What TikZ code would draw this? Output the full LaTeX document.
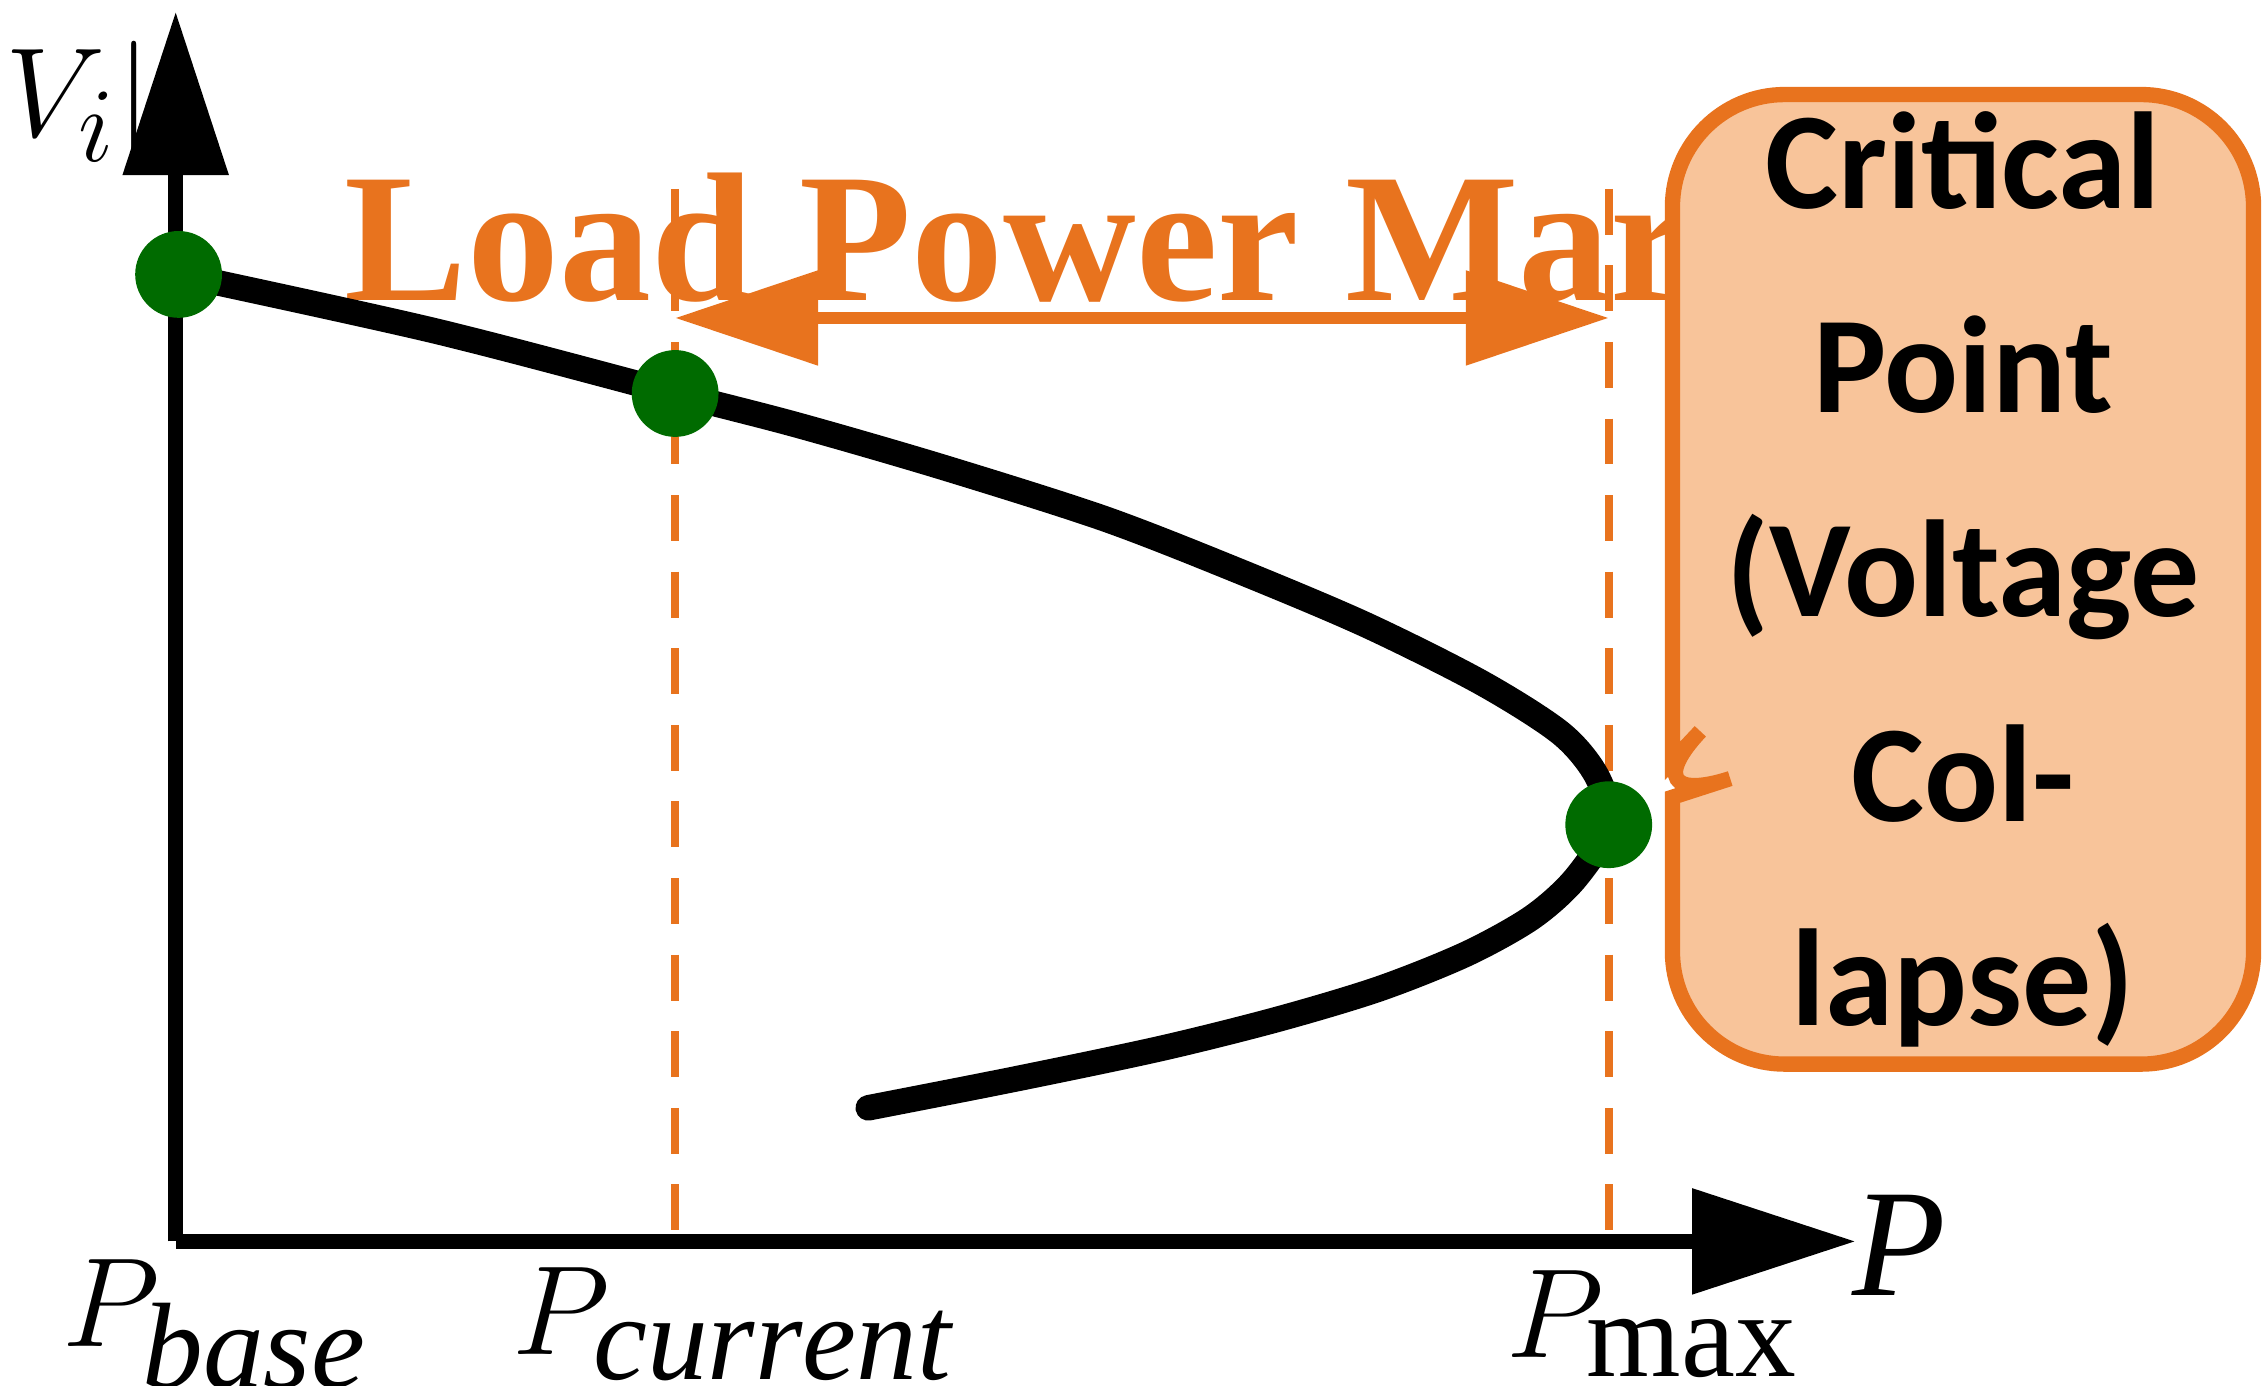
\documentclass[tikz,border=0pt]{standalone}
\usepackage{fontspec}
\setmainfont{Liberation Serif}
\newfontfamily\calfnt{Carlito}
\usetikzlibrary{arrows.meta,shapes.callouts}
\definecolor{org}{HTML}{E8731E}
\definecolor{orgfill}{HTML}{F8C49A}
\tikzset{gdot/.style={circle,fill=black!40!green!70!black,inner sep=0pt,minimum size=17pt},
 odash/.style={org,line width=1.5pt,dash pattern=on 9pt off 6pt},
 lbl/.style={font=\fontsize{30}{30}\selectfont\itshape}}
\begin{document}
\begin{tikzpicture}[x=0.01cm,y=-0.01cm]
\useasboundingbox (0,0) rectangle (1560,954);
\coordinate (o) at (121,855);
\coordinate (ytop) at (121,8);
\coordinate (xend) at (1278,855);
\draw[line width=3pt,-{Triangle[length=32pt,width=20pt]}] (o) -- (ytop);
\draw[line width=3pt,-{Triangle[length=32pt,width=20pt]}] (o) -- (xend);
\coordinate (d1t) at (465,130); \coordinate (d1b) at (465,855);
\coordinate (d2t) at (1108,130); \coordinate (d2b) at (1108,855);
\draw[odash] (d1t) -- (d1b);
\draw[odash] (d2t) -- (d2b);
\coordinate (a1) at (465,219); \coordinate (a2) at (1108,219);
\draw[org,line width=2.5pt,{Triangle[length=28pt,width=18pt]}-{Triangle[length=28pt,width=18pt]}] (a1) -- (a2);
\node[org,font=\fontsize{36}{36}\selectfont\bfseries] (lpm) at (786,177) {Load Power Margin};
\draw[line width=5pt,line join=round,line cap=round] plot[smooth,tension=0.5] coordinates {(123,189) (300,228) (465,271) (550,293) (650,322) (760,357) (850,392) (940,430) (1020,470) (1075,505) (1100,535) (1108,568) (1085,605) (1055,632) (1010,657) (950,681) (880,702) (800,722) (700,743) (598,763)};
\node[gdot] (p1) at (123,189) {};
\node[gdot] (p2) at (465,271) {};
\node[gdot] (p3) at (1108,568) {};
\node[rectangle callout,rounded corners=22pt,draw=org,line width=3pt,fill=orgfill,minimum width=4cm,minimum height=1.72cm,
  text width=3.6cm,align=center,font=\calfnt\fontsize{27}{40}\selectfont\bfseries,
  callout absolute pointer={(1118,560)}] (cp) at (1352,399) {Critical Point\\(Voltage Collapse)};
\node[lbl] (vi) at (42,72) {$\left|V_i\right|$};
\node[lbl] (pl) at (1308,858) {P};
\node[lbl,font=\fontsize{34}{34}\selectfont] (pb) at (148,912) {$P_{\mathit{base}}$};
\node[lbl,font=\fontsize{34}{34}\selectfont] (pc) at (505,912) {$P_{\mathit{current}}$};
\node[lbl,font=\fontsize{34}{34}\selectfont] (pm) at (1138,912) {$P_{\mathrm{max}}$};
\end{tikzpicture}
\end{document}
